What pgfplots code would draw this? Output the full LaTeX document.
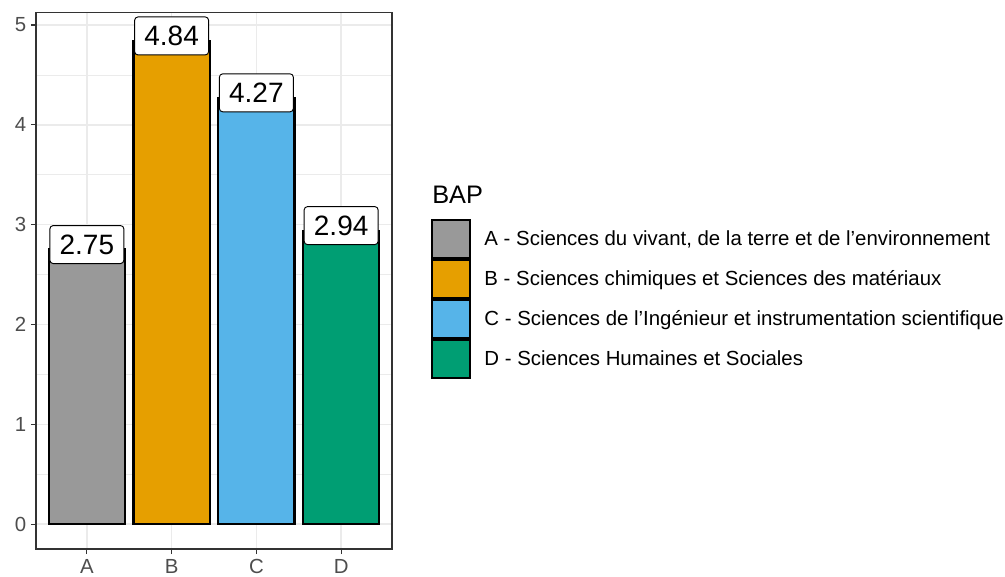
\documentclass[border=0pt]{standalone}
\usepackage{fontspec}
\setmainfont{Liberation Sans}
\usepackage{pgfplots}
\pgfplotsset{compat=1.18}
\definecolor{cA}{HTML}{999999}
\definecolor{cB}{HTML}{E69F00}
\definecolor{cC}{HTML}{56B4E9}
\definecolor{cD}{HTML}{009E73}
\definecolor{gridc}{HTML}{EBEBEB}
\definecolor{axc}{HTML}{333333}
\definecolor{tickc}{HTML}{4D4D4D}
\begin{document}
\begin{tikzpicture}
\begin{axis}[
  name=ax, at={(0,0)}, anchor=south west,
  scale only axis, width=267pt, height=402.375pt,
  xmin=0.4, xmax=4.6, ymin=-0.25, ymax=5.125,
  xtick={1,2,3,4}, xticklabels={A,B,C,D},
  ytick={0,1,2,3,4,5},
  minor ytick={0.5,1.5,2.5,3.5,4.5},
  xmajorgrids, ymajorgrids, yminorgrids,
  major grid style={gridc, line width=1.1pt},
  minor grid style={gridc, line width=0.55pt},
  axis line style={axc, line width=0.8pt},
  tick pos=left, tick align=outside,
  major tick length=3.75pt, minor tick length=0pt,
  tick style={axc, line width=0.8pt},
  ticklabel style={font=\fontsize{15.3}{18}\selectfont, text=tickc},
  xticklabel style={yshift=-0.5pt},
  /pgf/number format/assume math mode=true,
  ybar, bar width=0.9,
  nodes near coords,
  nodes near coords style={anchor=center, yshift=3.75pt, draw=black, fill=white,
     rounded corners=2.5pt, line width=0.7pt, font=\fontsize{21}{24}\selectfont,
     text=black, inner xsep=7.3pt, inner ysep=6.75pt, text height=15pt, text depth=0pt},
  clip=false,
  legend image code/.code={\draw[#1, line width=1.6pt] (0pt,-14.2pt) rectangle (28.5pt,14.2pt);},
  legend style={draw=none, fill=none, at={(1.1096,0.6151)}, anchor=north west,
     inner sep=0pt, outer sep=0pt, row sep=0pt, column sep=10pt,
     font=\fontsize{15.3}{18}\selectfont, nodes={inner sep=0pt, text=black}},
  legend cell align=left,
]
\addplot[fill=cA, draw=black, line width=1.6pt, bar shift=0pt] coordinates {(1,2.75)};
\addlegendentry{A - Sciences du vivant, de la terre et de l’environnement}
\addplot[fill=cB, draw=black, line width=1.6pt, bar shift=0pt] coordinates {(2,4.84)};
\addlegendentry{B - Sciences chimiques et Sciences des matériaux}
\addplot[fill=cC, draw=black, line width=1.6pt, bar shift=0pt] coordinates {(3,4.27)};
\addlegendentry{C - Sciences de l’Ingénieur et instrumentation scientifique}
\addplot[fill=cD, draw=black, line width=1.6pt, bar shift=0pt] coordinates {(4,2.94)};
\addlegendentry{D - Sciences Humaines et Sociales}
\node[anchor=base west, inner sep=0pt, font=\fontsize{19}{22}\selectfont] at (rel axis cs:1.1124,0.6449) {BAP};
\end{axis}
\path (ax.south west) ++(-27pt,-20.25pt) coordinate (bl);
\path (ax.north east) ++(459.75pt,9.375pt) coordinate (tr);
\pgfresetboundingbox
\path (bl) rectangle (tr);
\end{tikzpicture}
\end{document}
